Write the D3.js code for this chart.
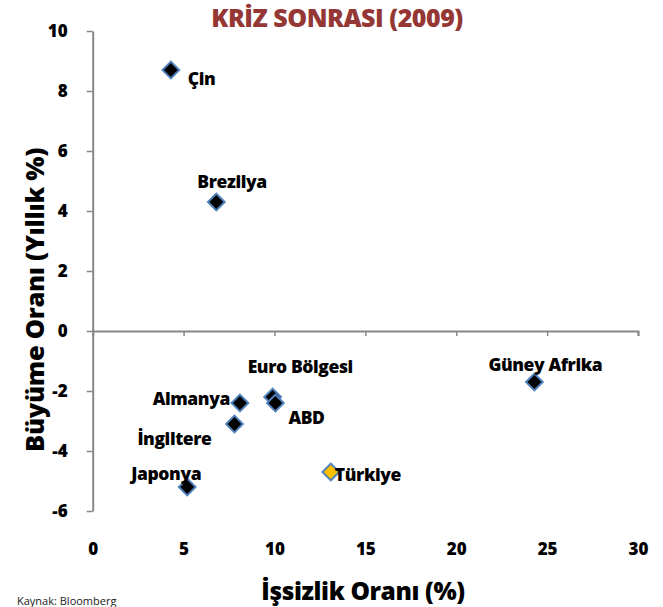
<!DOCTYPE html>
<html><head><meta charset="utf-8">
<script src="https://cdn.jsdelivr.net/npm/d3@7"></script>
<style>
body{margin:0;background:#fff;}
svg{display:block;font-family:"Open Sans",sans-serif;}
</style></head><body>
<svg id="c" width="663" height="607"></svg>
<script>
const countries = ["Çin","Brezilya","Almanya","Euro Bölgesi","ABD","İngiltere","Japonya","Türkiye","Güney Afrika"];
const unemployment = [4.3, 6.8, 8.1, 9.9, 10.05, 7.8, 5.2, 13.1, 24.3];
const growth = [8.7, 4.3, -2.4, -2.2, -2.4, -3.1, -5.2, -4.7, -1.7];
const highlight = ["Türkiye"];
const xTicks = [0,5,10,15,20,25,30];
const yTicks = [-6,-4,-2,0,2,4,6,8,10];

// label layout (offsets from marker centre)
const labelLayout = {
  "Çin":[17,15,"start"], "Brezilya":[-19,-14,"start"], "Almanya":[-10,2,"end"],
  "Euro Bölgesi":[-25,-24,"start"], "ABD":[13,21,"start"], "İngiltere":[-23,21,"end"],
  "Japonya":[-56,-7,"start"], "Türkiye":[4,9,"start"], "Güney Afrika":[-46,-11,"start"]
};

const svg = d3.select("#c");
const x = d3.scaleLinear().domain([0,30]).range([92.7,638]);
const y = d3.scaleLinear().domain([-6,10]).range([511,31]);
const axisColor = "#878787";
const FONT = "'Open Sans',sans-serif";
const fmt = d => String(d); // plain hyphen-minus like the reference

// title
svg.append("text").attr("x",337).attr("y",27).attr("text-anchor","middle")
  .attr("font-size",25).attr("font-weight",800).attr("fill","#953735")
  .attr("letter-spacing",-0.5).text("KRİZ SONRASI (2009)");

// y axis
const gy = svg.append("g").attr("transform",`translate(${x(0)},0)`)
  .call(d3.axisLeft(y).tickValues(yTicks).tickSize(6).tickSizeOuter(0).tickFormat(fmt));
gy.select(".domain").attr("stroke",axisColor).attr("stroke-width",2);
gy.selectAll(".tick line").attr("stroke",axisColor).attr("stroke-width",1.5);
gy.selectAll(".tick text").attr("x",-25).attr("font-size",17).attr("font-weight",800)
  .attr("fill","#000").attr("font-family",FONT);

// x axis at y=0
const gx = svg.append("g").attr("transform",`translate(0,${y(0)})`)
  .call(d3.axisBottom(x).tickValues(xTicks).tickSize(5).tickSizeOuter(5).tickFormat(fmt));
gx.select(".domain").attr("stroke",axisColor).attr("stroke-width",2);
gx.selectAll(".tick line").attr("stroke",axisColor).attr("stroke-width",1.5);
gx.selectAll(".tick text").attr("y",y(-6)-y(0)+44).attr("dy",0).attr("font-size",17)
  .attr("font-weight",800).attr("fill","#000").attr("font-family",FONT);
gx.selectAll(".tick").filter(d=>d===0).select("line").remove();

// axis titles
svg.append("text").attr("x",363).attr("y",600).attr("text-anchor","middle")
  .attr("font-size",24.5).attr("font-weight",800).attr("letter-spacing",-0.4).text("İşsizlik Oranı (%)");
svg.append("text").attr("transform","translate(44,300) rotate(-90)").attr("text-anchor","middle")
  .attr("font-size",25.5).attr("font-weight",800).attr("letter-spacing",-0.3).text("Büyüme Oranı (Yıllık %)");

// source
svg.append("text").attr("x",17).attr("y",605).attr("font-size",11)
  .attr("font-family",FONT).attr("fill","#222").text("Kaynak: Bloomberg");

// points
const pts = countries.map((c,i)=>({c, x:unemployment[i], y:growth[i]}));
const sym = d3.symbol().type(d3.symbolSquare).size(140);
svg.append("g").selectAll("path").data(pts).join("path")
  .attr("d",sym)
  .attr("transform",d=>`translate(${x(d.x)},${y(d.y)}) rotate(45)`)
  .attr("fill",d=>highlight.includes(d.c)?"#FFC000":"#000")
  .attr("stroke","#4F81BD").attr("stroke-width",2);

svg.append("g").selectAll("text").data(pts).join("text")
  .attr("x",d=>x(d.x)+labelLayout[d.c][0])
  .attr("y",d=>y(d.y)+labelLayout[d.c][1])
  .attr("text-anchor",d=>labelLayout[d.c][2])
  .attr("font-size",17.5).attr("font-weight",800).attr("fill","#000")
  .attr("letter-spacing",-0.4)
  .text(d=>d.c);
</script></body></html>
